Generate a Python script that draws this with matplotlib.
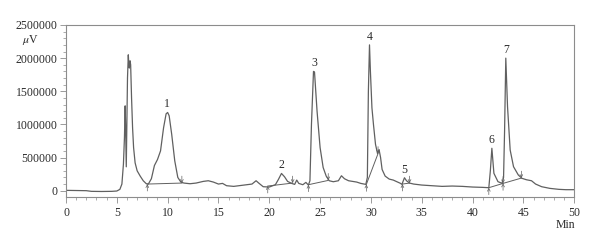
import numpy as np
import matplotlib
matplotlib.use("Agg")
import matplotlib.pyplot as plt
from matplotlib.ticker import MultipleLocator

# chromatogram trace (time in min, signal in uV)
trace_t = [0.0, 1.0, 2.0, 2.5, 3.5, 4.5, 5.0, 5.3, 5.5, 5.65, 5.75, 5.82, 5.86, 5.93,
           5.98, 6.05, 6.13, 6.18, 6.23, 6.3, 6.36, 6.45, 6.55, 6.65, 6.8, 7.0, 7.3,
           7.6, 7.9, 8.1, 8.4, 8.7, 9.0, 9.3, 9.6, 9.85, 10.0, 10.15, 10.4, 10.7, 11.0,
           11.3, 11.6, 12.2, 12.8, 13.5, 14.0, 14.5, 15.0, 15.4, 15.8, 16.5, 17.5,
           18.3, 18.7, 19.0, 19.4, 20.0, 20.6, 20.9, 21.2, 21.5, 21.8, 22.2, 22.5,
           22.7, 22.9, 23.3, 23.6, 23.85, 24.0, 24.15, 24.35, 24.45, 24.7, 25.0, 25.3,
           25.6, 25.9, 26.3, 26.8, 27.1, 27.4, 27.8, 28.2, 28.6, 29.0, 29.5, 29.65,
           29.75, 29.86, 29.95, 30.1, 30.25, 30.45, 30.65, 30.8, 30.95, 31.1, 31.4,
           31.8, 32.2, 32.55, 32.9, 33.05, 33.3, 33.5, 33.8, 34.2, 35.0, 36.0, 37.0,
           38.0, 39.0, 40.0, 41.0, 41.6, 41.75, 41.9, 42.1, 42.5, 42.9, 43.05, 43.15,
           43.27, 43.44, 43.7, 44.03, 44.5, 44.85, 45.3, 45.8, 46.2, 46.8, 47.6, 48.5,
           49.2, 50.0]
trace_uv = [5000, 3000, 0, -10000, -12000, -10000, -5000, 20000, 100000, 400000, 800000,
            1280000, 1000000, 360000, 900000, 1700000, 2050000, 1900000, 1850000,
            1960000, 1900000, 1400000, 950000, 650000, 420000, 300000, 220000, 150000,
            105000, 100000, 180000, 380000, 470000, 600000, 950000, 1160000, 1180000,
            1130000, 850000, 450000, 200000, 130000, 115000, 105000, 115000, 140000,
            150000, 130000, 100000, 110000, 75000, 65000, 85000, 100000, 150000,
            110000, 60000, 55000, 90000, 170000, 260000, 210000, 140000, 110000, 95000,
            160000, 110000, 90000, 125000, 85000, 150000, 1000000, 1800000, 1790000,
            1200000, 650000, 350000, 220000, 150000, 135000, 150000, 225000, 180000,
            150000, 140000, 130000, 110000, 95000, 200000, 1500000, 2200000, 1800000,
            1250000, 1000000, 700000, 560000, 620000, 500000, 320000, 220000, 175000,
            160000, 136000, 111000, 95000, 195000, 150000, 115000, 100000, 85000,
            75000, 65000, 70000, 65000, 55000, 50000, 45000, 300000, 640000, 262000,
            136000, 111000, 200000, 900000, 2000000, 1270000, 614000, 362000, 237000,
            187000, 165000, 150000, 100000, 60000, 35000, 20000, 15000, 15000]

# numbered peaks: apex time and height
peak_names = ["1", "2", "3", "4", "5", "6", "7"]
peak_t = [9.97, 21.2, 24.4, 29.86, 33.3, 41.9, 43.27]
peak_uv = [1180000, 260000, 1800000, 2200000, 195000, 640000, 2000000]

# integration baselines (start/end of each drawn segment)
base_t0 = [8.0, 19.85, 23.85, 29.55, 33.1, 41.6, 43.0]
base_uv0 = [100000, 70000, 90000, 95000, 100000, 45000, 110000]
base_t1 = [11.4, 22.3, 25.8, 30.7, 33.8, 43.0, 44.8]
base_uv1 = [115000, 115000, 155000, 560000, 115000, 110000, 190000]

x_ticks = [0, 5, 10, 15, 20, 25, 30, 35, 40, 45, 50]
y_ticks = [0, 500000, 1000000, 1500000, 2000000, 2500000]

plt.rcParams['font.family'] = ['Liberation Serif', 'DejaVu Serif']
plt.rcParams['mathtext.fontset'] = 'stix'
line_col = "#606060"
frame_col = "#8c8c8c"
text_col = "#2b2b2b"
fs = 8.5

fig = plt.figure(figsize=(6, 2.45), dpi=100)
ax = fig.add_axes([0.11, 0.196, 0.847, 0.702])

ax.plot(trace_t, trace_uv, color=line_col, lw=0.9)

arrow = dict(arrowstyle="->,head_length=0.2,head_width=0.1", color=line_col, lw=0.5,
             shrinkA=0, shrinkB=0)
for t0, v0, t1, v1 in zip(base_t0, base_uv0, base_t1, base_uv1):
    ax.plot([t0, t1], [v0, v1], color=line_col, lw=0.7)
    ax.annotate("", xy=(t0, v0), xytext=(0, -5), textcoords="offset points",
                arrowprops=arrow)
    ax.annotate("", xy=(t1, v1), xytext=(0, 5), textcoords="offset points",
                arrowprops=arrow)

for name, t, v in zip(peak_names, peak_t, peak_uv):
    ax.annotate(name, xy=(t, v), xytext=(0, 1.5), textcoords="offset points",
                ha="center", va="bottom", fontsize=fs, color=text_col)

ax.set_xlim(0, 50)
ax.set_ylim(-95000, 2500000)
ax.set_xticks(x_ticks)
ax.set_yticks(y_ticks)
ax.set_yticklabels([str(v) for v in y_ticks])
ax.xaxis.set_minor_locator(MultipleLocator(1))
ax.yaxis.set_minor_locator(MultipleLocator(100000))
ax.tick_params(which="major", direction="out", length=4, width=0.6, color=frame_col,
               labelsize=fs, labelcolor=text_col, pad=2)
ax.tick_params(which="minor", direction="out", length=2, width=0.5, color=frame_col)
ax.tick_params(axis="x", pad=3)
for s in ax.spines.values():
    s.set_color(frame_col)
    s.set_linewidth(0.8)

fig.text(0.037, 0.838, r"$\mu$V", fontsize=fs, color=text_col, ha="left", va="center")
fig.text(0.958, 0.082, "Min", fontsize=fs, color=text_col, ha="right", va="center")

fig.savefig("out.png", dpi=100)
